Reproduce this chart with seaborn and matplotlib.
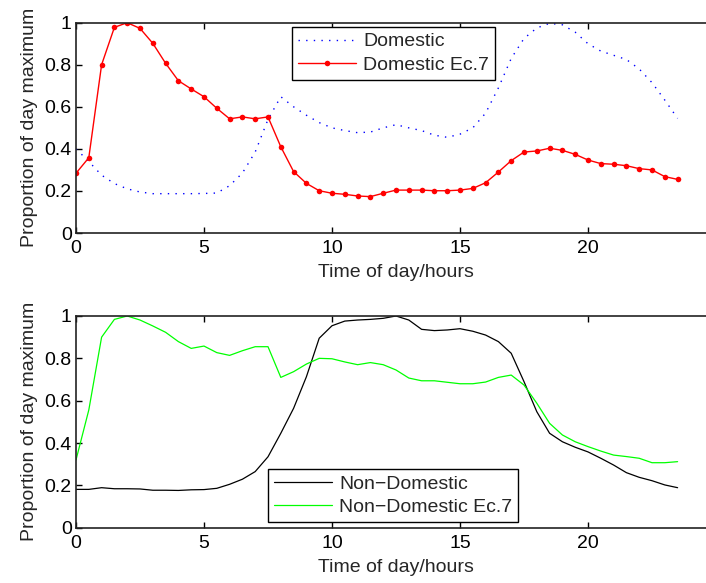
import numpy as np
import pandas as pd
import matplotlib
matplotlib.use("Agg")
import matplotlib.pyplot as plt
import seaborn as sns

# time axis: half-hourly
hours = [i * 0.5 for i in range(48)]

domestic = [0.40, 0.34, 0.275, 0.235, 0.21, 0.195, 0.187, 0.187, 0.187, 0.187,
            0.188, 0.19, 0.225, 0.285, 0.385, 0.54, 0.648, 0.60, 0.56, 0.525,
            0.50, 0.487, 0.477, 0.48, 0.50, 0.515, 0.50, 0.487, 0.465, 0.455,
            0.47, 0.50, 0.57, 0.69, 0.83, 0.925, 0.975, 0.997, 0.99, 0.955,
            0.90, 0.865, 0.845, 0.825, 0.78, 0.715, 0.632, 0.545]

domestic_ec7 = [0.284, 0.358, 0.80, 0.978, 1.0, 0.973, 0.902, 0.807, 0.724, 0.685,
                0.648, 0.593, 0.543, 0.552, 0.543, 0.552, 0.41, 0.292, 0.236, 0.201,
                0.189, 0.184, 0.176, 0.173, 0.189, 0.204, 0.204, 0.204, 0.201, 0.201,
                0.204, 0.212, 0.239, 0.29, 0.344, 0.385, 0.39, 0.403, 0.393, 0.374,
                0.347, 0.33, 0.327, 0.32, 0.306, 0.30, 0.268, 0.255]

non_domestic = [0.181, 0.181, 0.189, 0.184, 0.184, 0.183, 0.177, 0.177, 0.176, 0.179,
                0.18, 0.186, 0.205, 0.229, 0.265, 0.335, 0.446, 0.564, 0.713, 0.895,
                0.954, 0.976, 0.981, 0.984, 0.989, 1.0, 0.981, 0.937, 0.931, 0.934,
                0.94, 0.928, 0.91, 0.879, 0.824, 0.69, 0.548, 0.446, 0.406, 0.38,
                0.358, 0.328, 0.296, 0.26, 0.238, 0.222, 0.202, 0.189]

non_domestic_ec7 = [0.32, 0.556, 0.90, 0.984, 1.0, 0.981, 0.953, 0.923, 0.879, 0.847,
                    0.858, 0.827, 0.814, 0.836, 0.855, 0.855, 0.71, 0.737, 0.773, 0.80,
                    0.798, 0.783, 0.77, 0.78, 0.77, 0.745, 0.707, 0.694, 0.694, 0.687,
                    0.68, 0.68, 0.688, 0.71, 0.721, 0.674, 0.588, 0.493, 0.438, 0.406,
                    0.383, 0.362, 0.343, 0.336, 0.328, 0.307, 0.307, 0.312]

x_ticks = [0, 5, 10, 15, 20]
y_ticks = [0, 0.2, 0.4, 0.6, 0.8, 1]
y_tick_labels = ["0", "0.2", "0.4", "0.6", "0.8", "1"]
x_label = "Time of day/hours"
y_label = "Proportion of day maximum"

FS = 14

sns.set_style("ticks")
plt.rcParams["font.family"] = ["Liberation Sans", "DejaVu Sans"]
plt.rcParams["font.size"] = FS
plt.rcParams["lines.scale_dashes"] = False

fig = plt.figure(figsize=(7.06, 5.83), dpi=100)
W, H = 706.0, 583.0
ax1 = fig.add_axes([76 / W, 1 - 233 / H, 640 / W, (233 - 22.7) / H])
ax2 = fig.add_axes([76 / W, 1 - 527.7 / H, 640 / W, (527.7 - 316) / H])

df_top = pd.DataFrame({"t": hours, "dom": domestic, "dom7": domestic_ec7})
df_bot = pd.DataFrame({"t": hours, "nd": non_domestic, "nd7": non_domestic_ec7})

sns.lineplot(data=df_top, x="t", y="dom", ax=ax1, color=(0, 0, 1),
             linewidth=1.0, dashes=False, label="Domestic", errorbar=None)
ax1.lines[-1].set_dashes((1, 4.5))
sns.lineplot(data=df_top, x="t", y="dom7", ax=ax1, color=(1, 0, 0),
             linewidth=1.0, marker="o", markersize=4, markeredgewidth=0,
             label="Domestic Ec.7", errorbar=None)

sns.lineplot(data=df_bot, x="t", y="nd", ax=ax2, color=(0, 0, 0),
             linewidth=0.9, label="Non\u2212Domestic", errorbar=None)
sns.lineplot(data=df_bot, x="t", y="nd7", ax=ax2, color=(0, 1, 0),
             linewidth=0.9, label="Non\u2212Domestic Ec.7", errorbar=None)

for ax in (ax1, ax2):
    ax.set_xlim(0, 25)
    ax.set_ylim(0, 1)
    ax.set_xticks(x_ticks)
    ax.set_xticklabels([str(v) for v in x_ticks])
    ax.set_yticks(y_ticks)
    ax.set_yticklabels(y_tick_labels)
    ax.tick_params(direction="in", length=4, width=1.0, top=True,
                   labelsize=FS, pad=3, colors="black")
    ax.tick_params(axis="x", pad=5)
    for s in ("left", "bottom", "top"):
        ax.spines[s].set_visible(True)
        ax.spines[s].set_linewidth(1.2)
        ax.spines[s].set_color("#222222")
    ax.spines["right"].set_visible(False)
    ax.set_xlabel(x_label, fontsize=FS, labelpad=5)
    ax.set_ylabel(y_label, fontsize=FS, labelpad=5)
    ax.grid(False)

leg1 = ax1.legend(loc="upper left", bbox_to_anchor=(0.3375, 0.98),
                  borderaxespad=0, fancybox=False, framealpha=1,
                  edgecolor="black", handlelength=3.0, handletextpad=0.35,
                  borderpad=0.3, labelspacing=0.3, fontsize=FS)
leg1.get_frame().set_linewidth(1.0)
leg2 = ax2.legend(loc="lower left", bbox_to_anchor=(0.3, 0.027),
                  borderaxespad=0, fancybox=False, framealpha=1,
                  edgecolor="black", handlelength=3.0, handletextpad=0.35,
                  borderpad=0.3, labelspacing=0.3, fontsize=FS)
leg2.get_frame().set_linewidth(1.0)

fig.savefig("out.png", dpi=100)
